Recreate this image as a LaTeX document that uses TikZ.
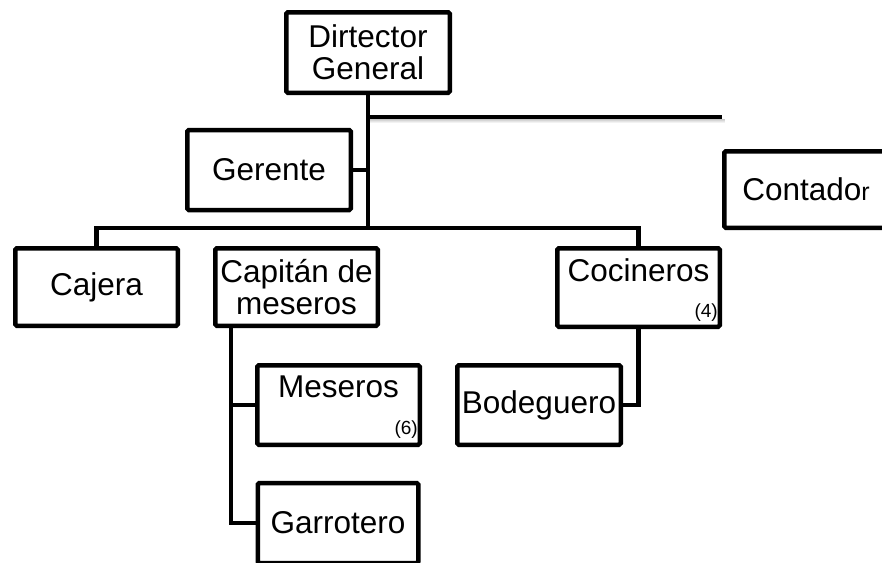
\documentclass[tikz,border=0pt]{standalone}
\usepackage{fontspec}
\setmainfont{Liberation Sans}
\usetikzlibrary{calc}
\begin{document}
\begin{tikzpicture}[x=1pt,y=-1pt,
  orgbox/.style={draw, line width=4.5pt, rounded corners=1.5pt,
    minimum width=163pt, minimum height=80pt, inner sep=0pt,
    align=center, font=\fontsize{31.5}{32}\selectfont},
  boxtext/.style={inner sep=0pt, font=\fontsize{31.5}{32}\selectfont},
  count/.style={inner sep=0pt, anchor=south east, font=\fontsize{19}{20}\selectfont},
  link/.style={line width=4.5pt}]
\useasboundingbox (0,0) rectangle (882,562);
\clip (0,0) rectangle (882,562);

% boxes
\node[orgbox, minimum width=163.5pt, minimum height=80.5pt] (dir) at (368,52.5) {Dirtector\\General};
\node[orgbox, minimum width=163.5pt] (ger) at (269,170) {Gerente};
\node[orgbox, minimum width=163.5pt, minimum height=76.5pt] (con) at (806,189.5)
  {Contado{\fontsize{25}{25}\selectfont r}};
\node[orgbox, minimum width=162.5pt, minimum height=77.5pt] (caj) at (96.5,287) {Cajera};
\node[orgbox, minimum width=162.5pt, minimum height=77.5pt] (cap) at (296.5,287) {Capitán de\\meseros};
\node[orgbox, minimum width=162.5pt, minimum height=78.5pt] (coc) at (638.5,287.5) {};
\node[boxtext] (cocT) at (638.5,270) {Cocineros};
\node[count] (cocN) at ($(coc.south east)+(-4,-7)$) {(4)};
\node[orgbox, minimum width=162.5pt, minimum height=79.5pt] (mes) at (338.5,405) {};
\node[boxtext] (mesT) at (338.5,387) {Meseros};
\node[count] (mesN) at ($(mes.south east)+(-4,-8)$) {(6)};
\node[orgbox, minimum width=160.5pt] (gar) at (338,523) {Garrotero};
\node[orgbox, minimum width=163.5pt, minimum height=79.5pt] (bod) at (539,405) {Bodeguero};

% connector points
\coordinate (bar) at (368,228);
\coordinate (rt) at (722,117);
\coordinate (capdrop) at ($(cap.south west)+(18,0)$);

% connectors
\draw[link] (dir.south) -- (dir.south |- bar);
\draw[link] (caj.north) -- (caj.north |- bar) -- (coc.north |- bar) -- (coc.north);
\draw[link] (ger.east) -- (ger.east -| bar);
% soft shade under the long rule
\foreach \d/\o in {2.5/0.22,3.5/0.16,4.5/0.10,5.5/0.05}
  \draw[line width=1.2pt, black, opacity=\o]
    ($(dir.south |- rt)+(2,\d)$) -- ($(rt)+(3,\d)$);
\draw[link] (dir.south |- rt) -- (rt);
\draw[link] (capdrop) |- (gar.west);
\draw[link] (mes.west -| capdrop) -- (mes.west);
\draw[link] (coc.south) |- (bod.east);
\end{tikzpicture}
\end{document}
